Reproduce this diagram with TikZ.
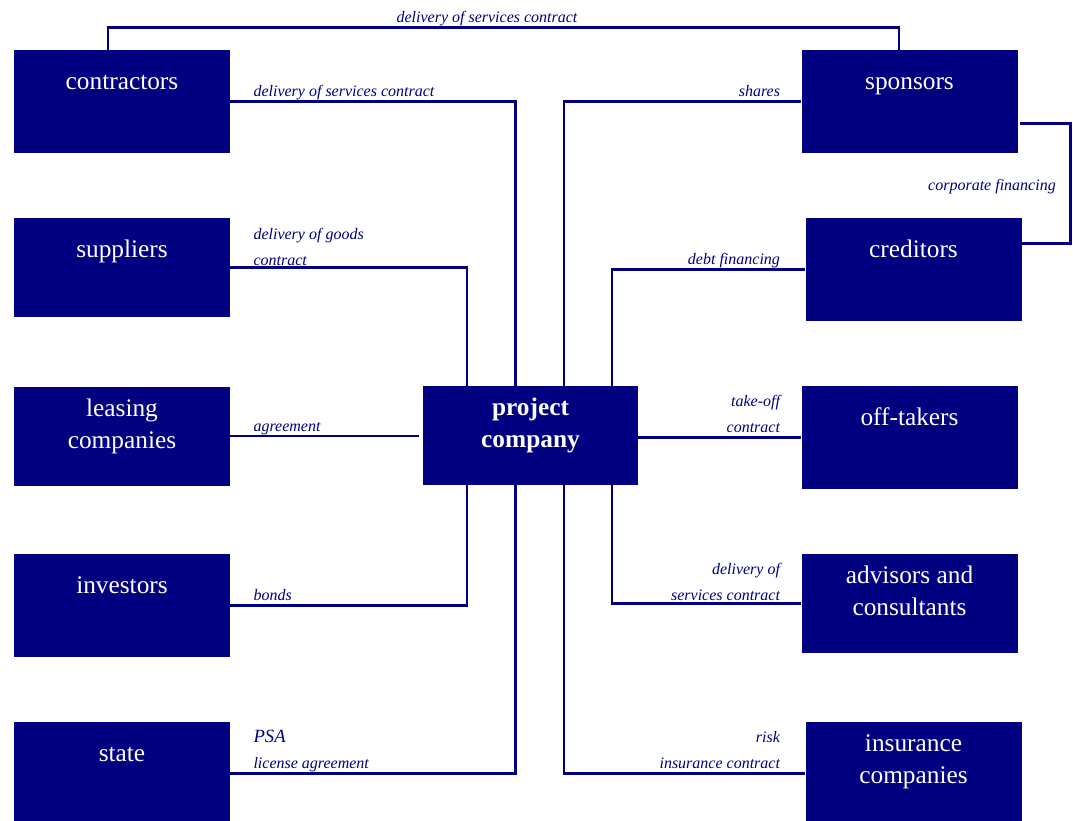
\documentclass[tikz,border=0pt]{standalone}
\usepackage{fontspec}
\setmainfont{Liberation Serif}
\usetikzlibrary{calc, positioning}
\definecolor{pfnavy}{RGB}{0, 0, 128}

\begin{document}
\begin{tikzpicture}[
    x=0.75pt, y=-0.75pt,
    % Style for the partner boxes
    box/.style={
        rectangle, fill=pfnavy, draw=none,
        minimum width=162pt, minimum height=77.25pt, inner sep=0pt
    },
    lowbox/.style={box, minimum height=74.25pt},
    % Style for the white text in the boxes
    boxtext/.style={
        text=white, font=\fontsize{19}{24}\selectfont,
        align=center, anchor=base, inner sep=0pt
    },
    % Style for the connectors
    link/.style={draw=pfnavy, line width=2pt},
    % Style for the italic contract labels
    lbl/.style={
        text=pfnavy, font=\fontsize{12}{19.5}\selectfont\itshape, inner sep=0pt
    }
]
\useasboundingbox (0,0) rectangle (1073,820);

% 1. Boxes (manual coordinates, px-like units)
\node[box] (contractors) at (122,101.5) {};
\node[lowbox] (suppliers) at (122,267.5) {};
\node[lowbox] (leasing) at (122,436) {};
\node[box] (investors) at (122,605.5) {};
\node[box] (state) at (122,773.5) {};

\node[box] (sponsors) at (909.5,101.5) {};
\node[box] (creditors) at (913.5,269.5) {};
\node[box] (offtakers) at (909.5,437.5) {};
\node[lowbox] (advisors) at (909.5,603.5) {};
\node[box] (insurance) at (913.5,773.5) {};

\node[box, minimum width=161.25pt, minimum height=74.25pt] (pc) at (530.5,435.5) {};

% 2. Box texts (base = last line)
\node[boxtext] (contractors-t) at ($(contractors.north)+(0,39.5)$) {contractors};
\node[boxtext] (suppliers-t) at ($(suppliers.north)+(0,40)$) {suppliers};
\node[boxtext] (leasing-t) at ($(leasing.north)+(0,62)$) {leasing\\companies};
\node[boxtext] (investors-t) at ($(investors.north)+(0,39.5)$) {investors};
\node[boxtext] (state-t) at ($(state.north)+(0,39.5)$) {state};
\node[boxtext] (sponsors-t) at ($(sponsors.north)+(0,39.5)$) {sponsors};
\node[boxtext] (creditors-t) at ($(creditors.north)+(0,39.5)$) {creditors};
\node[boxtext] (offtakers-t) at ($(offtakers.north)+(0,39.5)$) {off-takers};
\node[boxtext] (advisors-t) at ($(advisors.north)+(0,62)$) {advisors and\\consultants};
\node[boxtext] (insurance-t) at ($(insurance.north)+(0,62)$) {insurance\\companies};
\node[boxtext, font=\fontsize{19}{24}\selectfont\bfseries] (pc-t)
    at ($(pc.north)+(0,62)$) {project\\company};

% 3. Attachment points on the project company
\coordinate (pcn1) at ($(pc.north)+(-63.5,0)$);
\coordinate (pcn2) at ($(pc.north)+(-15,0)$);
\coordinate (pcn3) at ($(pc.north)+(33.5,0)$);
\coordinate (pcn4) at ($(pc.north)+(81.5,0)$);
\coordinate (pcs1) at ($(pc.south)+(-63.5,0)$);
\coordinate (pcs2) at ($(pc.south)+(-15,0)$);
\coordinate (pcs3) at ($(pc.south)+(33.5,0)$);
\coordinate (pcs4) at ($(pc.south)+(81.5,0)$);

% 4. Connectors
\draw[link] ($(contractors.north)+(-14,0)$) -- ++(0,-22.5)
    -| ($(sponsors.north)+(-10.5,0)$);
\draw[link] (contractors.east) -| (pcn2);
\draw[link] (suppliers.east) -| (pcn1);
\draw[link] (leasing.east) -- ([xshift=-3pt]leasing.east -| pc.west);
\draw[link] (investors.east) -| (pcs1);
\draw[link] (state.east) -| (pcs2);

\draw[link] (sponsors.west) -| (pcn3);
\draw[link] (creditors.west) -| (pcn4);
\draw[link] (offtakers.west) -- (offtakers.west -| pc.east);
\draw[link] (advisors.west) -| (pcs4);
\draw[link] (insurance.west) -| (pcs3);
\draw[link] ($(sponsors.east)+(2,22)$) -- ++(51,0) |- ($(creditors.east)+(0,-26)$);

% 5. Contract labels
\node[lbl, anchor=base] (top-l) at (487,22.5) {delivery of services contract};
\node[lbl, anchor=base west] (contractors-l) at ($(contractors.east)+(23,-5)$)
    {delivery of services contract};
\node[lbl, anchor=base west, align=left] (suppliers-l) at ($(suppliers.east)+(23,-2.5)$)
    {delivery of goods\\contract};
\node[lbl, anchor=base west] (leasing-l) at ($(leasing.east)+(23,-5)$) {agreement};
\node[lbl, anchor=base west] (investors-l) at ($(investors.east)+(23,-5)$) {bonds};
\node[lbl, anchor=base west, align=left] (state-l) at ($(state.east)+(23,-5.5)$)
    {{\fontsize{14}{19.5}\selectfont PSA}\\license agreement};

\node[lbl, anchor=base east] (sponsors-l) at ($(sponsors.west)+(-21,-5)$) {shares};
\node[lbl, anchor=base east] (creditors-l) at ($(creditors.west)+(-25,-5)$) {debt financing};
\node[lbl, anchor=base east, align=right] (offtakers-l) at ($(offtakers.west)+(-21,-5)$)
    {take-off\\contract};
\node[lbl, anchor=base east, align=right] (advisors-l) at ($(advisors.west)+(-21,-3.5)$)
    {delivery of\\services contract};
\node[lbl, anchor=base east, align=right] (insurance-l) at ($(insurance.west)+(-25,-5)$)
    {risk\\insurance contract};
\node[lbl, anchor=base east] (corp-l) at (1056,190.5) {corporate financing};

\end{tikzpicture}
\end{document}
